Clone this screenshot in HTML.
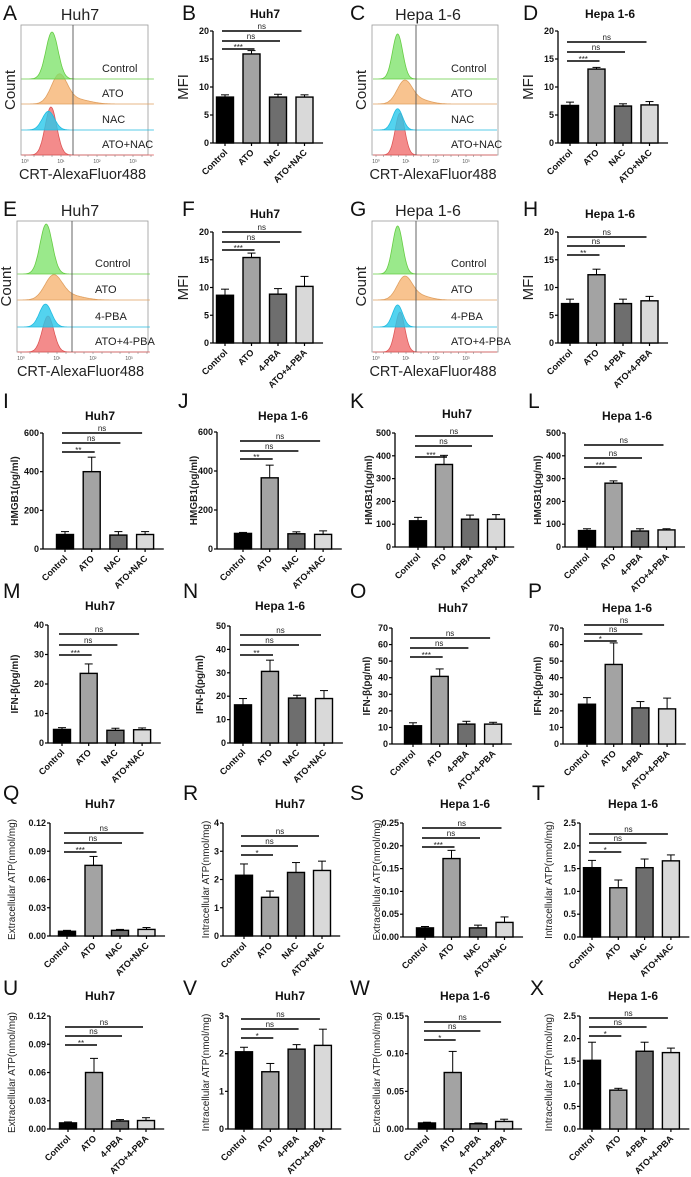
<!DOCTYPE html>
<html><head><meta charset="utf-8"><style>
html,body{margin:0;padding:0;background:#fff}
svg{display:block;font-family:"Liberation Sans",sans-serif}
</style></head><body>
<svg id="fig" width="691" height="1177" viewBox="0 0 691 1177"></svg>
<script>
// ---------- data ----------
const groupsNAC = ["Control","ATO","NAC","ATO+NAC"];
const groupsPBA = ["Control","ATO","4-PBA","ATO+4-PBA"];

const valB=[8.2,15.9,8.2,8.2], errB=[0.4,0.6,0.5,0.4];
const valD=[6.7,13.2,6.6,6.8], errD=[0.6,0.3,0.4,0.6];
const valF=[8.6,15.4,8.8,10.2], errF=[1.1,0.8,1.0,1.8];
const valH=[7.1,12.3,7.1,7.6], errH=[0.8,1.0,0.8,0.8];
const valI=[75,400,72,75], errI=[15,75,18,15];
const valJ=[80,365,78,75], errJ=[5,65,10,18];
const valK=[115,362,122,122], errK=[15,40,18,20];
const valL=[72,280,70,75], errL=[8,10,10,5];
const valM=[4.6,23.6,4.3,4.5], errM=[0.6,3.2,0.7,0.6];
const valN=[16.3,30.6,19.2,19.0], errN=[2.7,4.8,1.2,3.4];
const valO=[11,40.8,12,12], errO=[1.8,4.5,1.7,1.1];
const valP=[24,48,21.8,21.2], errP=[4,13,3.8,6.5];
const valQ=[0.005,0.075,0.006,0.007], errQ=[0.001,0.0095,0.001,0.002];
const valR=[2.15,1.37,2.25,2.32], errR=[0.4,0.22,0.35,0.33];
const valS=[0.02,0.172,0.02,0.032], errS=[0.003,0.018,0.006,0.012];
const valT=[1.52,1.08,1.52,1.67], errT=[0.16,0.17,0.19,0.13];
const valU=[0.0065,0.06,0.0085,0.009], errU=[0.001,0.015,0.0015,0.003];
const valV=[2.05,1.52,2.12,2.22], errV=[0.12,0.22,0.12,0.43];
const valW=[0.008,0.075,0.007,0.01], errW=[0.001,0.028,0.001,0.003];
const valX=[1.52,0.86,1.72,1.69], errX=[0.4,0.04,0.2,0.1];

const ticksMFI=[0,5,10,15,20];
const ticks600=[0,200,400,600];
const ticks500=[0,100,200,300,400,500];
const ticks40=[0,10,20,30,40];
const ticks50=[0,10,20,30,40,50];
const ticks70=[0,10,20,30,40,50,60,70];
const ticks012=["0.00","0.03","0.06","0.09","0.12"];
const ticks4=[0,1,2,3,4];
const ticks025=["0.00","0.05","0.10","0.15","0.20","0.25"];
const ticks25=["0.0","0.5","1.0","1.5","2.0","2.5"];
const ticks3=[0,1,2,3];
const ticks015=["0.00","0.05","0.10","0.15"];

const sigB=["***","ns","ns"], sigD=["***","ns","ns"], sigF=["***","ns","ns"], sigH=["**","ns","ns"];
const sigI=["**","ns","ns"], sigJ=["**","ns","ns"], sigK=["***","ns","ns"], sigL=["***","ns","ns"];
const sigM=["***","ns","ns"], sigN=["**","ns","ns"], sigO=["***","ns","ns"], sigP=["*","ns","ns"];
const sigQ=["***","ns","ns"], sigR=["*","ns","ns"], sigS=["***","ns","ns"], sigT=["*","ns","ns"];
const sigU=["**","ns","ns"], sigV=["*","ns","ns"], sigW=["*","ns","ns"], sigX=["*","ns","ns"];

// histogram peaks: [centre (log10 units), spread, relative height]
const peaksA=[[0.75,0.17,1.0],[0.95,0.22,0.95],[0.65,0.17,0.85],[0.72,0.16,1.0]];
const peaksC=[[0.72,0.17,1.0],[0.95,0.25,0.8],[0.72,0.17,0.85],[0.8,0.16,0.95]];
const peaksE=[[0.7,0.17,1.0],[0.9,0.24,0.85],[0.68,0.17,0.85],[0.75,0.16,0.9]];
const peaksG=[[0.72,0.17,1.0],[0.95,0.25,0.8],[0.72,0.17,0.85],[0.8,0.16,0.95]];
const histLabelsNAC=["Control","ATO","NAC","ATO+NAC"];
const histLabelsPBA=["Control","ATO","4-PBA","ATO+4-PBA"];

// ---------- drawing ----------
const NS="http://www.w3.org/2000/svg";
const svg=document.getElementById('fig');
function el(tag,attrs,parent,txt){const e=document.createElementNS(NS,tag);for(const k in attrs)e.setAttribute(k,attrs[k]);if(txt!==undefined)e.textContent=txt;(parent||svg).appendChild(e);return e;}
const barFill=["#000000","#a3a3a3","#6e6e6e","#d9d9d9"];

function letter(ch,x,y){const t=el('text',{x:x,y:y,'font-size':21,fill:'#111'},svg,ch);

}

function barPanel(p){
  const g=el('g',{});
  
  
  const tickVals=p.ticks.map(Number);
  const ymax=tickVals[tickVals.length-1];
  const Y=v=>p.y0-(v/ymax)*(p.y0-p.yTop);
  const X=i=>p.c0+i*p.sp;
  const xEnd=X(3)+p.sp*0.7;
  const tt=el('text',{x:p.tx,y:p.ty,'font-size':p.tfs||12,'font-weight':'bold','text-anchor':'middle',fill:'#111'},g,p.title);
  
  
  const ya=el('line',{x1:p.ax,y1:p.yTop,x2:p.ax,y2:p.y0,stroke:'#000','stroke-width':1.3},g);
  
  
  const xa=el('line',{x1:p.ax,y1:p.y0,x2:xEnd,y2:p.y0,stroke:'#000','stroke-width':1.3},g);
  
  
  p.ticks.forEach(tv=>{const y=Y(Number(tv));
    el('line',{x1:p.ax-3,y1:y,x2:p.ax,y2:y,stroke:'#000','stroke-width':1.2},g);
    const tl=el('text',{x:p.ax-4,y:y+3,'font-size':9,'font-weight':'bold','text-anchor':'end',fill:'#111'},g,String(tv));
    
    
  });
  const yl=el('text',{x:0,y:0,'font-size':p.yfs||10,'font-weight':p.ybold?'bold':'normal','text-anchor':'middle',fill:'#222',transform:`translate(${p.ylx},${(p.yTop+p.y0)/2}) rotate(-90)`},g,p.ylabel);
  
  
  p.vals.forEach((v,i)=>{
    const x=X(i), w=p.bw||17, top=Y(v), et=Y(v+p.errs[i]);
    el('line',{x1:x,y1:et,x2:x,y2:top,stroke:'#000','stroke-width':1},g);
    el('line',{x1:x-4,y1:et,x2:x+4,y2:et,stroke:'#000','stroke-width':1},g);
    const r=el('rect',{x:x-w/2,y:top,width:w,height:p.y0-top,fill:barFill[i],stroke:'#000','stroke-width':1.4},g);
    
    
    el('line',{x1:x,y1:p.y0,x2:x,y2:p.y0+3,stroke:'#000','stroke-width':1.2},g);
    const lab=el('text',{x:0,y:0,'font-size':9,'font-weight':'bold','text-anchor':'end',fill:'#111',transform:`translate(${x+3},${p.y0+10}) rotate(-45)`},g,p.groups[i]);
    
    
  });
  const ends=[X(1)+3,X(2)+2,X(3)-3];
  const ys=[p.s1,p.s2,p.s3];
  [0,1,2].forEach(k=>{
    const x1=X(0)-3,x2=ends[k],y=ys[k];
    const sl=el('line',{x1:x1,y1:y,x2:x2,y2:y,stroke:'#000','stroke-width':1.6},g);
    
    
    el('text',{x:(x1+x2)/2,y:p.sig[k]==='ns'?y-2:y+1,'font-size':8,'text-anchor':'middle',fill:'#222'},g,p.sig[k]);
  });
}

function gauss(x,c,s){return Math.exp(-0.5*((x-c)/s)*((x-c)/s));}
function histPanel(h){
  const g=el('g',{});
  
  
  const fr=el('rect',{x:h.x,y:h.y,width:h.w,height:h.h,fill:'none',stroke:'#999','stroke-width':0.8},g);
  
  
  const colors=[["rgba(120,225,100,0.75)","#66cc44"],["rgba(245,175,105,0.75)","#e0a060"],["rgba(40,200,235,0.8)","#22bbe0"],["rgba(240,110,110,0.8)","#dd5555"]];
  const bandH=h.bands;
  const X=lg=>h.x+4+lg*h.dec;
  for(let k=3;k>=0;k--){
    const base=bandH[k], pk=h.peaks[k], amp=h.amp[k];
    let d=`M${h.x+1},${base}`;
    for(let lg=-0.1;lg<=3.6;lg+=0.02){
      let v=pk[2]*gauss(lg,pk[0],pk[1]);
      if(k===1) v+=0.15*gauss(lg,pk[0]+0.5,0.35);
      d+=` L${X(lg).toFixed(1)},${(base-v*amp).toFixed(1)}`;
    }
    d+=` L${h.x+h.w-1},${base} Z`;
    const pth=el('path',{d:d,fill:colors[k][0],stroke:colors[k][1],'stroke-width':0.8},g);
    
    
    const lt=el('text',{x:h.lx,y:base-h.loff,'font-size':11,fill:'#222'},g,h.labels[k]);
    
    
  }
  el('line',{x1:h.gate,y1:h.y,x2:h.gate,y2:h.y+h.h,stroke:'#555','stroke-width':0.9},g);
  for(let i=0;i<4;i++){
    el('text',{x:X(i),y:h.y+h.h+8,'font-size':5,'text-anchor':'middle',fill:'#555'},g,'10'+['⁰','¹','²','³'][i]);
  }
  for(let i=0;i<=3.5;i+=0.25){el('line',{x1:X(i),y1:h.y+h.h,x2:X(i),y2:h.y+h.h+2,stroke:'#777','stroke-width':0.5},g);}
  const t=el('text',{x:h.tx,y:h.ty,'font-size':16,'text-anchor':'middle',fill:'#222'},g,h.title);
  
  
  const c=el('text',{x:0,y:0,'font-size':15,'text-anchor':'middle',fill:'#222',transform:`translate(${h.x-6},${h.y+h.h/2}) rotate(-90)`},g,'Count');
  
  
  const xt=el('text',{x:h.x+h.w/2-2,y:h.y+h.h+24,'font-size':14.5,'text-anchor':'middle',fill:'#222'},g,'CRT-AlexaFluor488');
  
  
}

[["A",3,20],["B",182,20],["C",350,20],["D",523,20],["E",3,216],["F",182,216],["G",350,216],["H",523,216],
 ["I",3,408],["J",178,408],["K",350,408],["L",528,408],["M",3,598],["N",183,598],["O",350,598],["P",528,598],
 ["Q",3,800],["R",183,800],["S",350,800],["T",532,800],["U",3,995],["V",183,995],["W",350,995],["X",530,995]]
 .forEach(a=>letter(a[0],a[1],a[2]));

histPanel({id:'a',x:21,y:25,w:127,h:130,gate:73,bands:[79,104,130,155],amp:[47,30,22,48],peaks:peaksA,labels:histLabelsNAC,lx:102,loff:7,tx:80,ty:20,title:'Huh7',dec:36});
histPanel({id:'c',x:372,y:25,w:126,h:130,gate:416,bands:[79,104,130,155],amp:[45,28,25,44],peaks:peaksC,labels:histLabelsNAC,lx:451,loff:7,tx:428,ty:20,title:'Hepa 1-6',dec:30});
histPanel({id:'e',x:17,y:221,w:131,h:131,gate:72,bands:[274,300,327,352],amp:[50,28,27,40],peaks:peaksE,labels:histLabelsPBA,lx:95,loff:7,tx:80,ty:216,title:'Huh7',dec:36});
histPanel({id:'g',x:372,y:221,w:126,h:131,gate:416,bands:[274,300,327,352],amp:[48,28,26,42],peaks:peaksG,labels:histLabelsPBA,lx:451,loff:7,tx:428,ty:216,title:'Hepa 1-6',dec:30});

barPanel({id:'b',title:'Huh7',tx:265,ty:18,ax:213,yTop:31,y0:143,c0:225,sp:26.5,ticks:ticksMFI,vals:valB,errs:errB,groups:groupsNAC,ylabel:'MFI',ylx:188,yfs:15,s1:49,s2:41,s3:31,sig:sigB});
barPanel({id:'d',title:'Hepa 1-6',tx:610,ty:18,ax:558,yTop:31,y0:143,c0:570,sp:26.5,ticks:ticksMFI,vals:valD,errs:errD,groups:groupsNAC,ylabel:'MFI',ylx:533,yfs:15,s1:61,s2:52,s3:42,sig:sigD});
barPanel({id:'f',title:'Huh7',tx:265,ty:218,ax:213,yTop:232,y0:343,c0:225,sp:26.5,ticks:ticksMFI,vals:valF,errs:errF,groups:groupsPBA,ylabel:'MFI',ylx:188,yfs:15,s1:250,s2:242,s3:232,sig:sigF});
barPanel({id:'h',title:'Hepa 1-6',tx:610,ty:218,ax:558,yTop:232,y0:343,c0:570,sp:26.5,ticks:ticksMFI,vals:valH,errs:errH,groups:groupsPBA,ylabel:'MFI',ylx:533,yfs:15,s1:255,s2:246,s3:237,sig:sigH});

barPanel({id:'i',title:'Huh7',tx:100,ty:420,ax:43,yTop:433,y0:549,c0:65,sp:26.7,ticks:ticks600,vals:valI,errs:errI,groups:groupsNAC,ylabel:'HMGB1(pg/ml)',ylx:18,ybold:true,s1:452,s2:443,s3:433,sig:sigI});
barPanel({id:'j',title:'Hepa 1-6',tx:283,ty:420,ax:217,yTop:432,y0:549,c0:243,sp:26.7,ticks:ticks600,vals:valJ,errs:errJ,groups:groupsNAC,ylabel:'HMGB1(pg/ml)',ylx:197,ybold:true,s1:459,s2:451,s3:441,sig:sigJ});
barPanel({id:'k',title:'Huh7',tx:457,ty:418,ax:395,yTop:433,y0:547,c0:418,sp:26,ticks:ticks500,vals:valK,errs:errK,groups:groupsPBA,ylabel:'HMGB1(pg/ml)',ylx:372,ybold:true,s1:457,s2:446,s3:436,sig:sigK});
barPanel({id:'l',title:'Hepa 1-6',tx:627,ty:420,ax:565,yTop:433,y0:547,c0:587,sp:26.5,ticks:ticks500,vals:valL,errs:errL,groups:groupsPBA,ylabel:'HMGB1(pg/ml)',ylx:541,ybold:true,s1:467,s2:458,s3:445,sig:sigL});

barPanel({id:'m',title:'Huh7',tx:100,ty:610,ax:48,yTop:625,y0:743,c0:62,sp:26.7,ticks:ticks40,vals:valM,errs:errM,groups:groupsNAC,ylabel:'IFN-β(pg/ml)',ylx:18,ybold:true,s1:655,s2:645,s3:634,sig:sigM});
barPanel({id:'n',title:'Hepa 1-6',tx:280,ty:610,ax:230,yTop:626,y0:743,c0:243,sp:27,ticks:ticks50,vals:valN,errs:errN,groups:groupsNAC,ylabel:'IFN-β(pg/ml)',ylx:203,ybold:true,s1:655,s2:645,s3:635,sig:sigN});
barPanel({id:'o',title:'Huh7',tx:453,ty:612,ax:392,yTop:628,y0:744,c0:413,sp:26.7,ticks:ticks70,vals:valO,errs:errO,groups:groupsPBA,ylabel:'IFN-β(pg/ml)',ylx:370,ybold:true,s1:657,s2:648,s3:638,sig:sigO});
barPanel({id:'p',title:'Hepa 1-6',tx:627,ty:612,ax:563,yTop:628,y0:744,c0:587,sp:26.7,ticks:ticks70,vals:valP,errs:errP,groups:groupsPBA,ylabel:'IFN-β(pg/ml)',ylx:541,ybold:true,s1:641,s2:634,s3:625,sig:sigP});

barPanel({id:'q',title:'Huh7',tx:100,ty:808,ax:50,yTop:823,y0:936,c0:67,sp:26.5,ticks:ticks012,vals:valQ,errs:errQ,groups:groupsNAC,ylabel:'Extracellular ATP(nmol/mg)',ylx:15,s1:852,s2:843,s3:833,sig:sigQ});
barPanel({id:'r',title:'Huh7',tx:290,ty:808,ax:223,yTop:823,y0:936,c0:244,sp:26,ticks:ticks4,vals:valR,errs:errR,groups:groupsNAC,ylabel:'Intracellular ATP(nmol/mg)',ylx:209,s1:855,s2:846,s3:836,sig:sigR});
barPanel({id:'s',title:'Hepa 1-6',tx:465,ty:808,ax:403,yTop:823,y0:937,c0:425,sp:26.5,ticks:ticks025,vals:valS,errs:errS,groups:groupsNAC,ylabel:'Extracellular ATP(nmol/mg)',ylx:380,s1:847,s2:838,s3:828,sig:sigS});
barPanel({id:'t',title:'Hepa 1-6',tx:633,ty:808,ax:580,yTop:823,y0:937,c0:592,sp:26.3,ticks:ticks25,vals:valT,errs:errT,groups:groupsNAC,ylabel:'Intracellular ATP(nmol/mg)',ylx:552,s1:852,s2:843,s3:834,sig:sigT});

barPanel({id:'u',title:'Huh7',tx:100,ty:1000,ax:50,yTop:1016,y0:1129,c0:68,sp:26,ticks:ticks012,vals:valU,errs:errU,groups:groupsPBA,ylabel:'Extracellular ATP(nmol/mg)',ylx:15,s1:1045,s2:1036,s3:1027,sig:sigU});
barPanel({id:'v',title:'Huh7',tx:290,ty:1000,ax:228,yTop:1016,y0:1129,c0:244,sp:26.3,ticks:ticks3,vals:valV,errs:errV,groups:groupsPBA,ylabel:'Intracellular ATP(nmol/mg)',ylx:209,s1:1038,s2:1029,s3:1019,sig:sigV});
barPanel({id:'w',title:'Hepa 1-6',tx:465,ty:1000,ax:408,yTop:1016,y0:1129,c0:427,sp:25.7,ticks:ticks015,vals:valW,errs:errW,groups:groupsPBA,ylabel:'Extracellular ATP(nmol/mg)',ylx:380,s1:1040,s2:1031,s3:1022,sig:sigW});
barPanel({id:'x',title:'Hepa 1-6',tx:633,ty:1000,ax:580,yTop:1016,y0:1129,c0:592,sp:26.3,ticks:ticks25,vals:valX,errs:errX,groups:groupsPBA,ylabel:'Intracellular ATP(nmol/mg)',ylx:552,s1:1036,s2:1027,s3:1018,sig:sigX});
</script>
</body></html>
